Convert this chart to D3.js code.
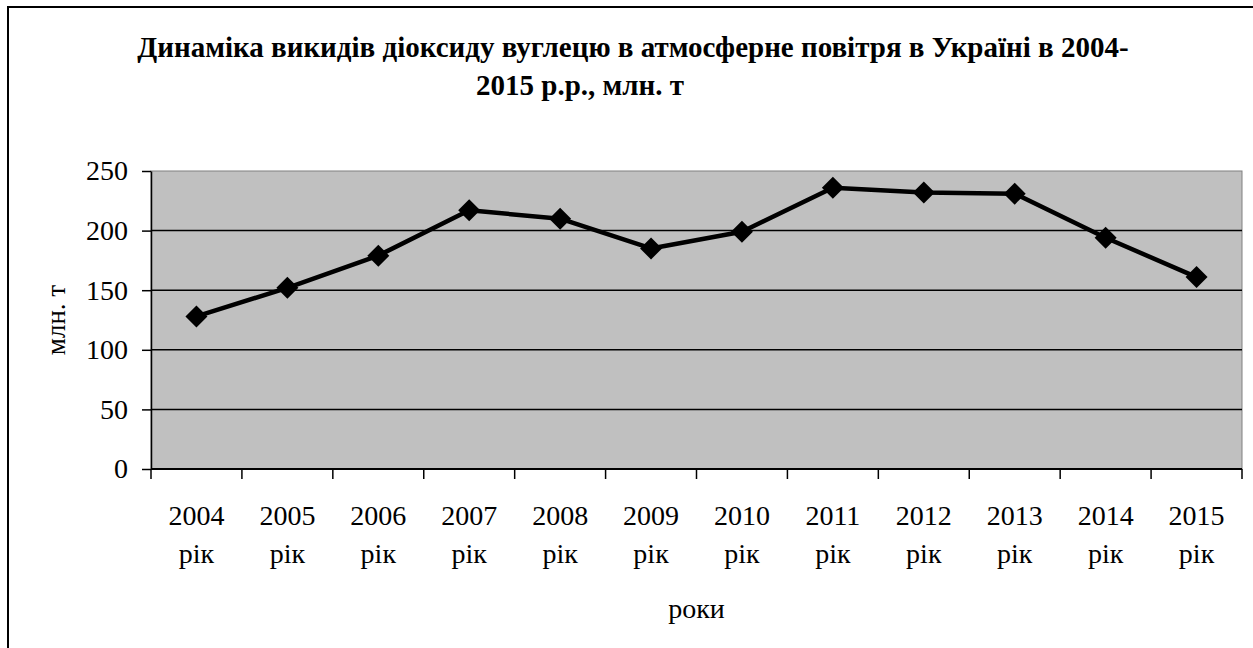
<!DOCTYPE html>
<html>
<head>
<meta charset="utf-8">
<script src="https://cdn.jsdelivr.net/npm/d3@7"></script>
<style>
  html, body { margin: 0; padding: 0; background: #fff; }
  svg { display: block; }
</style>
</head>
<body>
<svg id="chart" width="1253" height="648"></svg>
<script>
// Years shown on the category axis (two-line labels: year + "рік")
const years = ["2004", "2005", "2006", "2007", "2008", "2009", "2010", "2011", "2012", "2013", "2014", "2015"];
const yearSuffix = "рік";
// CO2 emissions, million tonnes
const emissions = [128, 152, 179, 217, 210, 185, 199, 236, 232, 231, 194, 161];
// Value axis ticks
const yTicks = [0, 50, 100, 150, 200, 250];

const titleLines = [
  "Динаміка викидів діоксиду вуглецю в атмосферне повітря в Україні в 2004-",
  "2015 р.р., млн. т"
];
const yTitle = "млн. т";
const xTitle = "роки";

const SERIF = "'Liberation Serif', 'Times New Roman', Tinos, Times, 'DejaVu Serif', serif";

const svg = d3.select("#chart").style("font-family", SERIF);
const W = 1253, H = 648;

function serifText(sel) {
  return sel.style("font-family", SERIF).attr("fill", "#000");
}

// outer chart frame (runs past the right and bottom edges)
svg.append("rect")
  .attr("x", 8).attr("y", 7)
  .attr("width", W + 20).attr("height", H + 20)
  .attr("fill", "#fff").attr("stroke", "#000").attr("stroke-width", 2);

const plot = { left: 151, right: 1242, top: 171, bottom: 469 };

const x = d3.scaleBand().domain(years).range([plot.left, plot.right]).padding(0);
const y = d3.scaleLinear().domain([0, 250]).range([plot.bottom, plot.top]);

// plot background
svg.append("rect")
  .attr("x", plot.left).attr("y", plot.top)
  .attr("width", plot.right - plot.left).attr("height", plot.bottom - plot.top)
  .attr("fill", "#c0c0c0").attr("stroke", "#808080").attr("stroke-width", 1);

// horizontal gridlines
svg.append("g")
  .selectAll("line")
  .data(yTicks.filter(d => d > 0 && d < 250))
  .join("line")
  .attr("x1", plot.left).attr("x2", plot.right)
  .attr("y1", d => y(d)).attr("y2", d => y(d))
  .attr("stroke", "#000").attr("stroke-width", 1.5);

// value axis
const yAxis = svg.append("g")
  .attr("transform", `translate(${plot.left},0)`)
  .call(d3.axisLeft(y).tickValues(yTicks).tickSize(9).tickPadding(14).tickSizeOuter(0));
yAxis.attr("font-family", null).attr("font-size", null);
yAxis.select(".domain").attr("stroke", "#000").attr("stroke-width", 1.5);
yAxis.selectAll(".tick line").attr("stroke", "#000").attr("stroke-width", 1.5);
yAxis.selectAll(".tick text").attr("font-size", 28).call(serifText);

// category axis: ticks sit on category boundaries
const boundaries = years.map(d => x(d)).concat([plot.right]);
svg.append("line")
  .attr("x1", plot.left).attr("x2", plot.right)
  .attr("y1", plot.bottom).attr("y2", plot.bottom)
  .attr("stroke", "#000").attr("stroke-width", 2);
svg.append("g").selectAll("line")
  .data(boundaries)
  .join("line")
  .attr("x1", d => d).attr("x2", d => d)
  .attr("y1", plot.bottom).attr("y2", plot.bottom + 10)
  .attr("stroke", "#000").attr("stroke-width", 1.5);

const xl = svg.append("g").selectAll("g")
  .data(years)
  .join("g")
  .attr("transform", d => `translate(${x(d) + x.bandwidth() / 2},0)`);
xl.append("text")
  .attr("y", 525).attr("text-anchor", "middle").attr("font-size", 28)
  .call(serifText)
  .text(d => d);
xl.append("text")
  .attr("y", 563).attr("text-anchor", "middle").attr("font-size", 28)
  .call(serifText)
  .text(yearSuffix);

// axis titles
svg.append("text")
  .attr("x", (plot.left + plot.right) / 2).attr("y", 618)
  .attr("text-anchor", "middle").attr("font-size", 28)
  .call(serifText)
  .text(xTitle);
svg.append("text")
  .attr("transform", `translate(65,${(plot.top + plot.bottom) / 2}) rotate(-90)`)
  .attr("text-anchor", "middle").attr("font-size", 27)
  .call(serifText)
  .text(yTitle);

// chart title
svg.append("text")
  .attr("x", 633).attr("y", 57)
  .attr("text-anchor", "middle").attr("font-size", 29).attr("font-weight", "bold")
  .call(serifText)
  .text(titleLines[0]);
svg.append("text")
  .attr("x", 580).attr("y", 95)
  .attr("text-anchor", "middle").attr("font-size", 29).attr("font-weight", "bold")
  .call(serifText)
  .text(titleLines[1]);

// series line
const pts = years.map((d, i) => [x(d) + x.bandwidth() / 2, y(emissions[i])]);
svg.append("path")
  .attr("d", d3.line()(pts))
  .attr("fill", "none").attr("stroke", "#000").attr("stroke-width", 4.5)
  .attr("stroke-linejoin", "round");

// diamond markers
svg.append("g").selectAll("path")
  .data(pts)
  .join("path")
  .attr("transform", d => `translate(${d[0]},${d[1]})`)
  .attr("d", "M0,-11L11,0L0,11L-11,0Z")
  .attr("fill", "#000");
</script>
</body>
</html>
